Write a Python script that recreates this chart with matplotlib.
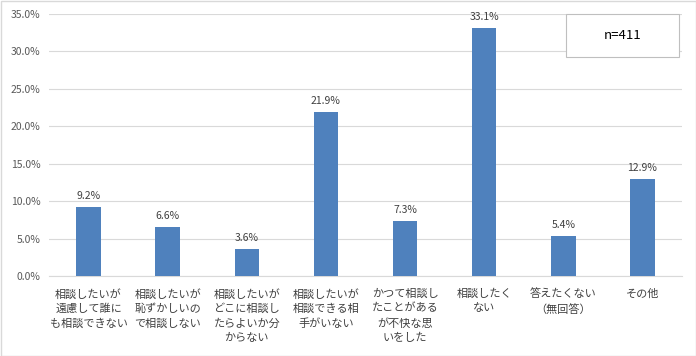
import numpy as np
import matplotlib
matplotlib.use("Agg")
import matplotlib.pyplot as plt
from matplotlib.patches import Rectangle

plt.rcParams['font.family'] = ['Noto Sans CJK JP', 'DejaVu Sans']

# data
categories = [
    "相談したいが\n遠慮して誰に\nも相談できない",
    "相談したいが\n恥ずかしいの\nで相談しない",
    "相談したいが\nどこに相談し\nたらよいか分\nからない",
    "相談したいが\n相談できる相\n手がいない",
    "かつて相談し\nたことがある\nが不快な思\nいをした",
    "相談したく\nない",
    "答えたくない\n（無回答）",
    "その他",
]
values = [9.2, 6.6, 3.6, 21.9, 7.3, 33.1, 5.4, 12.9]
yticks = [0, 5, 10, 15, 20, 25, 30, 35]

fig = plt.figure(figsize=(6.96, 3.56), dpi=100)
ax = fig.add_axes([49 / 696, 1 - 276 / 356, (682 - 49) / 696, (276 - 14) / 356])

x = np.arange(len(categories))
ax.bar(x, values, width=0.31, color='#4f81bd', zorder=3)

for xi, v in zip(x, values):
    ax.text(xi, v + 0.8, f"{v:.1f}%", ha='center', va='bottom', fontsize=7.5, color='#404040')

ax.set_xlim(-0.5, len(categories) - 0.5)
ax.set_ylim(0, 35)
ax.set_yticks(yticks)
ax.set_yticklabels([f"{t:.1f}%" for t in yticks], fontsize=7.5, color='#595959')
ax.set_xticks(x)
ax.set_xticklabels(categories, fontsize=8, color='#404040', linespacing=1.5, va='top')
ax.tick_params(axis='both', length=0)
ax.tick_params(axis='x', pad=9)
ax.tick_params(axis='y', pad=6)
ax.grid(axis='y', color='#d9d9d9', linewidth=0.8, zorder=0)
for s in ['top', 'right', 'left']:
    ax.spines[s].set_visible(False)
ax.spines['bottom'].set_color('#d9d9d9')

# n box
fig.patches.append(Rectangle((566 / 696, 1 - 57 / 356), 113 / 696, 43 / 356,
                             transform=fig.transFigure, facecolor='white',
                             edgecolor='#bfbfbf', linewidth=0.8, zorder=5))
fig.text((566 + 113 / 2) / 696, 1 - 35.5 / 356, "n=411", ha='center', va='center',
         fontsize=9.5, color='#000000', zorder=6)

# outer border
fig.patches.append(Rectangle((0.5 / 696, 0.5 / 356), 695 / 696, 355 / 356,
                             transform=fig.transFigure, fill=False,
                             edgecolor='#d9d9d9', linewidth=1))

fig.savefig("out.png", dpi=100)
